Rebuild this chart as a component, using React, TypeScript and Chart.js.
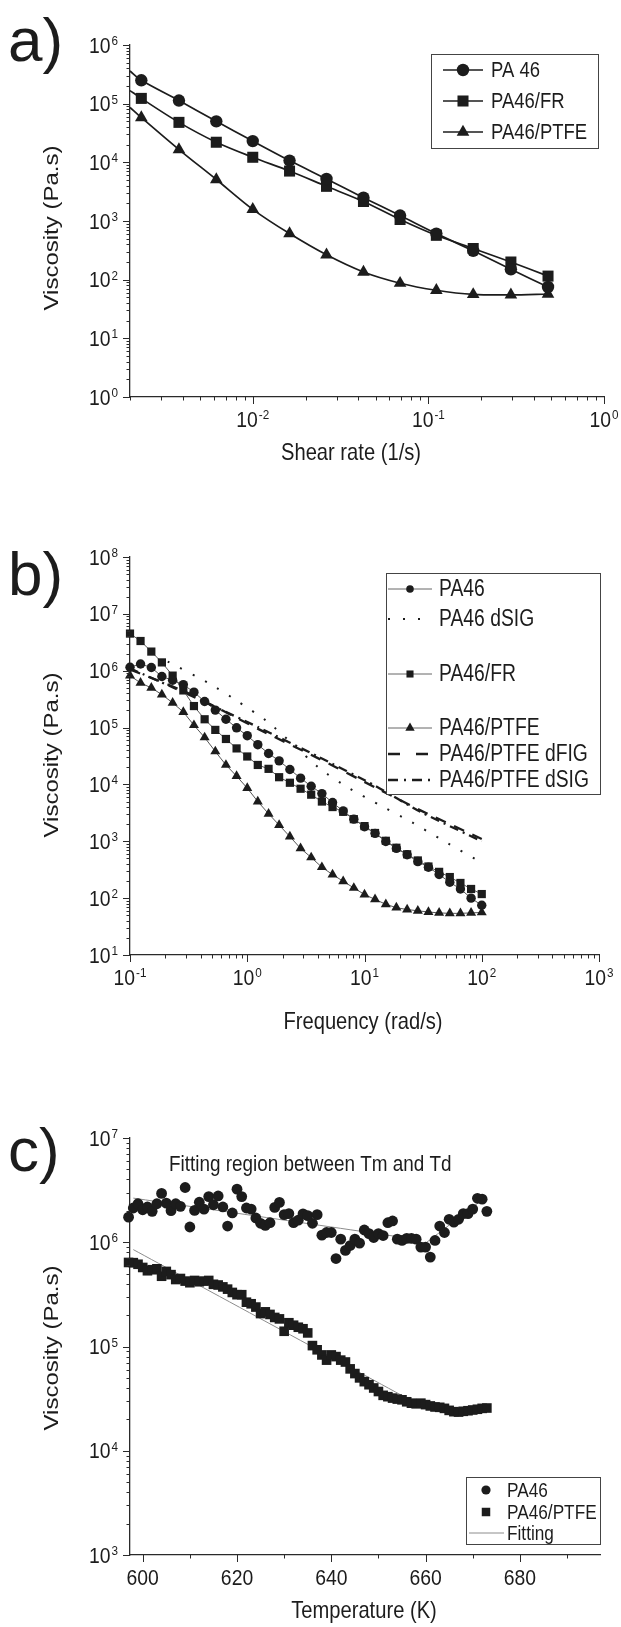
import React, { useEffect, useRef } from 'react';
import { Chart, registerables } from 'chart.js';

Chart.register(...registerables);

const FONT = '"Liberation Sans", Arial, Helvetica, sans-serif';
const INK = '#1c1c1c';
const PAGE_W = 621;
const SX = 0.84; // horizontal squeeze of the reference lettering
const TICK_SX = 0.9;

// ---------------- Panel a: viscosity vs shear rate ----------------
const shearRate = [0.002, 0.00232, 0.0038, 0.0062, 0.01, 0.0162, 0.0263, 0.0427, 0.069, 0.111, 0.18, 0.295, 0.48];
const pa46Shear = [3.6e5, 2.5e5, 1.13e5, 5.0e4, 2.3e4, 1.07e4, 5.2e3, 2.5e3, 1.24e3, 6.1e2, 3.1e2, 1.5e2, 75];
const pa46FrShear = [1.67e5, 1.23e5, 4.8e4, 2.2e4, 1.22e4, 7.1e3, 3.9e3, 2.15e3, 1.06e3, 5.7e2, 3.4e2, 2.0e2, 1.15e2];
const pa46PtfeShear = [8.6e4, 5.8e4, 1.65e4, 5.1e3, 1.58e3, 6.1e2, 2.65e2, 1.35e2, 87, 66, 56, 55, 57];
const shearNames = ['PA 46', 'PA46/FR', 'PA46/PTFE'];
const shearXTicks = [0.01, 0.1, 1];
const shearYTicks = [1, 10, 100, 1e3, 1e4, 1e5, 1e6];

// ---------------- Panel b: viscosity vs frequency ----------------
const frequency = [0.1, 0.123, 0.152, 0.187, 0.231, 0.285, 0.351, 0.433, 0.534, 0.658, 0.811, 1.0, 1.23, 1.52, 1.87, 2.31, 2.85, 3.51, 4.33, 5.34, 6.58, 8.11, 10.0, 12.3, 15.2, 18.7, 23.1, 28.5, 35.1, 43.3, 53.4, 65.8, 81.1, 100];
const pa46Freq = [1.15e6, 1.31e6, 1.14e6, 7.9e5, 6.8e5, 5.7e5, 4.2e5, 2.88e5, 2.03e5, 1.4e5, 9.9e4, 7.2e4, 5.0e4, 3.5e4, 2.6e4, 1.83e4, 1.29e4, 9.3e3, 6.9e3, 4.8e3, 3.4e3, 2.45e3, 1.8e3, 1.38e3, 9.9e2, 7.5e2, 5.8e2, 4.4e2, 3.5e2, 2.6e2, 1.9e2, 1.45e2, 1.0e2, 75];
const pa46FrFreq = [4.5e6, 3.33e6, 2.17e6, 1.4e6, 8.2e5, 4.5e5, 2.39e5, 1.4e5, 9.1e4, 6.3e4, 4.3e4, 3.1e4, 2.2e4, 1.88e4, 1.34e4, 1.07e4, 8.4e3, 6.6e3, 5.0e3, 4.0e3, 3.3e3, 2.45e3, 1.85e3, 1.4e3, 1.02e3, 7.7e2, 5.9e2, 4.6e2, 3.6e2, 2.9e2, 2.35e2, 1.85e2, 1.45e2, 1.18e2];
const pa46PtfeFreq = [8.2e5, 6.1e5, 5.0e5, 3.8e5, 2.73e5, 1.88e5, 1.1e5, 6.7e4, 3.8e4, 2.2e4, 1.4e4, 8.6e3, 5.0e3, 3.05e3, 1.93e3, 1.21e3, 7.5e2, 5.2e2, 3.5e2, 2.6e2, 1.98e2, 1.51e2, 1.16e2, 95, 78, 68, 63, 60, 57, 55, 54, 54, 55, 56];
const dsigPa46X = [0.21, 0.48, 0.85, 1.5, 2.5, 4.2, 7.3, 13, 24, 48, 100];
const dsigPa46Y = [1.45e6, 5.9e5, 2.8e5, 1.26e5, 4.9e4, 1.86e4, 8.7e3, 4.5e3, 2.3e3, 1.0e3, 4.2e2];
const dfigPtfeX = [0.1, 0.3, 1.26, 4.0, 12.3, 30, 100];
const dfigPtfeY = [1.05e6, 4.2e5, 9.3e4, 2.9e4, 8.9e3, 3.5e3, 1.1e3];
const dsigPtfeX = [0.1, 0.3, 1.26, 4.0, 12.3, 30, 100];
const dsigPtfeY = [1.1e6, 4.0e5, 1.0e5, 3.1e4, 9.5e3, 3.3e3, 1.0e3];
const freqNames = ['PA46', 'PA46 dSIG', 'PA46/FR', 'PA46/PTFE', 'PA46/PTFE dFIG', 'PA46/PTFE dSIG'];
const freqXTicks = [0.1, 1, 10, 100, 1000];
const freqYTicks = [10, 100, 1e3, 1e4, 1e5, 1e6, 1e7, 1e8];

// ---------------- Panel c: viscosity vs temperature ----------------
const temperature = [597, 598, 599, 600, 601, 602, 603, 604, 605, 606, 607, 608, 609, 610, 611, 612, 613, 614, 615, 616, 617, 618, 619, 620, 621, 622, 623, 624, 625, 626, 627, 628, 629, 630, 631, 632, 633, 634, 635, 636, 637, 638, 639, 640, 641, 642, 643, 644, 645, 646, 647, 648, 649, 650, 651, 652, 653, 654, 655, 656, 657, 658, 659, 660, 661, 662, 663, 664, 665, 666, 667, 668, 669, 670, 671, 672, 673];
const pa46Temp = [
  1.74e6, 2.13e6, 2.34e6, 2.05e6, 2.18e6, 1.98e6, 2.34e6, 2.94e6, 2.37e6, 2.01e6,
  2.34e6, 2.21e6, 3.35e6, 1.4e6, 2.02e6, 2.42e6, 2.08e6, 2.74e6, 2.29e6, 2.78e6,
  2.18e6, 1.43e6, 1.91e6, 3.23e6, 2.74e6, 2.13e6, 2.08e6, 1.71e6, 1.52e6, 1.45e6,
  1.54e6, 2.16e6, 2.41e6, 1.84e6, 1.88e6, 1.54e6, 1.63e6, 1.87e6, 1.8e6, 1.52e6,
  1.84e6, 1.17e6, 1.24e6, 1.24e6, 6.98e5, 1.07e6, 8.35e5, 9.3e5, 1.07e6, 9.8e5,
  1.31e6, 1.21e6, 1.11e6, 1.21e6, 1.16e6, 1.54e6, 1.6e6, 1.07e6, 1.04e6, 1.09e6,
  1.09e6, 1.07e6, 8.98e5, 8.98e5, 7.2e5, 1.04e6, 1.43e6, 1.24e6, 1.66e6, 1.56e6,
  1.66e6, 1.88e6, 1.88e6, 2.08e6, 2.64e6, 2.59e6, 1.98e6,
];
const ptfeTemp = [
  6.4e5, 6.37e5, 6.15e5, 5.73e5, 5.33e5, 5.45e5, 5.56e5, 4.72e5, 5.25e5, 4.89e5,
  4.39e5, 4.49e5, 4.24e5, 4.09e5, 4.3e5, 4.18e5, 4.24e5, 4.3e5, 3.95e5, 3.89e5,
  3.73e5, 3.55e5, 3.3e5, 3.14e5, 3.14e5, 2.66e5, 2.57e5, 2.39e5, 2.07e5, 2.15e5,
  2.03e5, 1.9e5, 1.84e5,
  1.4e5, 1.69e5, 1.6e5, 1.53e5, 1.48e5, 1.35e5, 1.02e5, 9.3e4, 8.3e4, 7.4e4,
  8.3e4, 8.0e4, 7.4e4, 7.1e4, 6.1e4, 5.5e4, 5.0e4, 4.6e4, 4.3e4, 4.0e4,
  3.7e4, 3.4e4, 3.3e4, 3.2e4, 3.13e4, 3.08e4, 2.95e4, 2.86e4, 2.82e4, 2.86e4,
  2.77e4, 2.69e4, 2.63e4, 2.61e4, 2.55e4, 2.44e4, 2.37e4, 2.35e4, 2.39e4, 2.42e4,
  2.46e4, 2.5e4, 2.55e4, 2.57e4,
];
const fitPa46AX = [598, 659];
const fitPa46AY = [2.65e6, 1.05e6];
const fitPa46BX = [660, 672];
const fitPa46BY = [9.8e5, 2.55e6];
const fitPtfeAX = [598, 656];
const fitPtfeAY = [8.5e5, 3.2e4];
const fitPtfeBX = [652, 666, 673];
const fitPtfeBY = [3.3e4, 2.35e4, 2.6e4];
const tempNames = ['PA46', 'PA46/PTFE', 'Fitting'];
const tempXTicks = [600, 620, 640, 660, 680];
const tempXMinor = [610, 630, 650, 670, 690];
const tempYTicks = [1e3, 1e4, 1e5, 1e6, 1e7];

// ---------------- helpers ----------------
const pts = (xs: number[], ys: number[]) => xs.map((x, i) => ({ x, y: ys[i] }));
const logMinors = (min: number, max: number) => {
  const out: number[] = [];
  for (let e = Math.floor(Math.log10(min)); e <= Math.ceil(Math.log10(max)); e++) {
    for (let k = 2; k <= 9; k++) {
      const v = k * Math.pow(10, e);
      if (v >= min * 0.999 && v <= max * 1.001) out.push(v);
    }
  }
  return out;
};
const powParts = (v: number): [string, string] => ['10', String(Math.round(Math.log10(v)))];
const plainParts = (v: number): [string, string] => [String(v), ''];

function squeezedText(ctx: CanvasRenderingContext2D, text: string, x: number, y: number, font: string, sx: number, align: CanvasTextAlign, baseline: CanvasTextBaseline, rotate = 0) {
  ctx.save();
  ctx.font = font;
  ctx.fillStyle = INK;
  ctx.textAlign = align;
  ctx.textBaseline = baseline;
  ctx.translate(x, y);
  if (rotate) {
    ctx.rotate(rotate);
    // along the text direction the lettering is full size; across it is squeezed
    ctx.scale(1, sx);
  } else {
    ctx.scale(sx, 1);
  }
  ctx.fillText(text, 0, 0);
  ctx.restore();
}

function drawMarker(ctx: CanvasRenderingContext2D, style: string, x: number, y: number, r: number) {
  ctx.beginPath();
  if (style === 'circle') ctx.arc(x, y, r, 0, Math.PI * 2);
  else if (style === 'rect') {
    const s = r * Math.SQRT1_2;
    ctx.rect(x - s, y - s, 2 * s, 2 * s);
  } else {
    let a = 0;
    ctx.moveTo(x + Math.sin(a) * r, y - Math.cos(a) * r);
    a += (2 * Math.PI) / 3;
    ctx.lineTo(x + Math.sin(a) * r, y - Math.cos(a) * r);
    a += (2 * Math.PI) / 3;
    ctx.lineTo(x + Math.sin(a) * r, y - Math.cos(a) * r);
    ctx.closePath();
  }
  ctx.fill();
}

const textPlugin = {
  id: 'texts',
  afterDraw(chart: any, _a: any, o: any) {
    const ctx: CanvasRenderingContext2D = chart.ctx;
    for (const t of o.items || []) {
      squeezedText(ctx, t.text, t.x, t.y, t.font, t.sx ?? SX, t.align || 'center', t.baseline || 'middle', t.rotate || 0);
    }
  },
};

const boxLegendPlugin = {
  id: 'boxLegend',
  afterDraw(chart: any, _a: any, o: any) {
    if (!o || !o.rows) return;
    const ctx: CanvasRenderingContext2D = chart.ctx;
    ctx.save();
    ctx.fillStyle = '#ffffff';
    ctx.fillRect(o.x1, o.y1, o.x2 - o.x1, o.y2 - o.y1);
    ctx.strokeStyle = '#444';
    ctx.lineWidth = 1;
    ctx.strokeRect(o.x1 + 0.5, o.y1 + 0.5, o.x2 - o.x1, o.y2 - o.y1);
    for (const r of o.rows) {
      if (r.line) {
        ctx.beginPath();
        ctx.setLineDash(r.line.dash || []);
        ctx.strokeStyle = r.line.color;
        ctx.lineWidth = r.line.width;
        ctx.moveTo(o.lineX1, r.y);
        ctx.lineTo(o.lineX2, r.y);
        ctx.stroke();
        ctx.setLineDash([]);
      }
      if (r.marker) {
        ctx.fillStyle = INK;
        drawMarker(ctx, r.marker.style, o.markerX, r.y, r.marker.r);
      }
    }
    ctx.restore();
    for (const r of o.rows) squeezedText(ctx, r.label, o.textX, r.y + 1, o.font, SX, 'left', 'middle');
  },
};

const axisPlugin = {
  id: 'axisDecor',
  afterDraw(chart: any, _a: any, o: any) {
    const ctx: CanvasRenderingContext2D = chart.ctx;
    const ca = chart.chartArea;
    const xs = chart.scales.x;
    const ys = chart.scales.y;
    ctx.save();
    ctx.strokeStyle = '#2a2a2a';
    ctx.lineWidth = 1;
    ctx.beginPath();
    const addX = (v: number, len: number) => {
      const p = Math.round(xs.getPixelForValue(v)) + 0.5;
      ctx.moveTo(p, ca.bottom);
      ctx.lineTo(p, ca.bottom + len);
    };
    const addY = (v: number, len: number) => {
      const p = Math.round(ys.getPixelForValue(v)) + 0.5;
      ctx.moveTo(ca.left, p);
      ctx.lineTo(ca.left - len, p);
    };
    o.xMajor.forEach((v: number) => addX(v, 7));
    o.xMinor.forEach((v: number) => addX(v, 3.5));
    o.yMajor.forEach((v: number) => addY(v, 7));
    o.yMinor.forEach((v: number) => addY(v, 3.5));
    ctx.stroke();
    ctx.restore();

    // tick labels ("10" with raised exponent), placed through the library's scales
    const baseFont = `21.5px ${FONT}`;
    const expFont = `13px ${FONT}`;
    const label = (parts: [string, string], x: number, baseY: number, align: 'right' | 'center') => {
      ctx.save();
      ctx.font = baseFont;
      const w1 = ctx.measureText(parts[0]).width * TICK_SX;
      ctx.font = expFont;
      const w2 = parts[1] ? ctx.measureText(parts[1]).width * TICK_SX + 1 : 0;
      ctx.restore();
      const total = w1 + w2;
      const x0 = align === 'right' ? x - total : x - total / 2;
      squeezedText(ctx, parts[0], x0, baseY, baseFont, TICK_SX, 'left', 'alphabetic');
      if (parts[1]) squeezedText(ctx, parts[1], x0 + w1 + 1, baseY - 7.5, expFont, TICK_SX, 'left', 'alphabetic');
    };
    o.xMajor.forEach((v: number) => label(o.xFmt(v), xs.getPixelForValue(v), ca.bottom + 29.5, 'center'));
    o.yMajor.forEach((v: number) => label(o.yFmt(v), ca.left - 12, ys.getPixelForValue(v) + 7.5, 'right'));
  },
};

function axis(type: string, min: number, max: number, majors: number[], fit: (s: any) => void) {
  return {
    type,
    min,
    max,
    afterBuildTicks: (s: any) => {
      s.ticks = majors.map((v) => ({ value: v, major: true }));
    },
    afterFit: fit,
    ticks: { display: false },
    grid: { display: false, drawTicks: false },
    border: { display: true, color: '#2a2a2a', width: 1.3 },
  };
}

type PanelSpec = {
  top: number;
  height: number;
  plotTop: number;
  plotBottom: number;
  plotRight: number;
  build: () => any;
};

function baseOptions(p: { height: number; plotTop: number; plotBottom: number; plotRight: number }, scales: any, plugins: any) {
  return {
    animation: false,
    responsive: false,
    maintainAspectRatio: false,
    devicePixelRatio: 1,
    layout: { padding: { left: 0, right: PAGE_W - p.plotRight, top: p.plotTop, bottom: 0 } },
    plugins: { legend: { display: false }, tooltip: { enabled: false }, ...plugins },
    scales,
  };
}

const markerDs = (label: string, data: any[], style: string, r: number | number[], lineColor: string, lineWidth: number, tension: number) => ({
  label,
  data,
  borderColor: lineColor,
  borderWidth: lineWidth,
  backgroundColor: INK,
  pointStyle: style,
  pointRadius: r,
  pointBackgroundColor: INK,
  pointBorderColor: INK,
  pointBorderWidth: 0,
  tension,
  fill: false,
  clip: false,
});

const lineDs = (label: string, data: any[], color: string, width: number, dash: number[]) => ({
  label,
  data,
  borderColor: color,
  borderWidth: width,
  borderDash: dash,
  pointRadius: 0,
  tension: 0.2,
  fill: false,
});

const TITLE = `24px ${FONT}`;
const PANEL = `62px ${FONT}`;

// ---------------- panel specs ----------------
const panelA: PanelSpec = {
  top: 0,
  height: 490,
  plotTop: 45,
  plotBottom: 397,
  plotRight: 604,
  build() {
    const H = this.height;
    const pb = this.plotBottom;
    const firstHidden = (r: number) => shearRate.map((_, i) => (i === 0 ? 0 : r));
    return {
      type: 'line',
      data: {
        datasets: [
          markerDs(shearNames[0], pts(shearRate, pa46Shear), 'circle', firstHidden(6.2), INK, 1.7, 0.3),
          markerDs(shearNames[1], pts(shearRate, pa46FrShear), 'rect', firstHidden(7.8), INK, 1.7, 0.3),
          markerDs(shearNames[2], pts(shearRate, pa46PtfeShear), 'triangle', firstHidden(7.3), INK, 1.7, 0.3),
        ],
      },
      options: baseOptions(this, {
        x: axis('logarithmic', 0.002, 1, shearXTicks, (s: any) => { s.height = H - pb; }),
        y: axis('logarithmic', 1, 1e6, shearYTicks, (s: any) => { s.width = 130; }),
      }, {
        texts: {
          items: [
            { text: 'a)', x: 8, y: 61, font: PANEL, sx: 1, align: 'left', baseline: 'alphabetic' },
            { text: 'Viscosity (Pa.s)', x: 52, y: 228, font: TITLE, rotate: -Math.PI / 2 },
            { text: 'Shear rate (1/s)', x: 351, y: 453, font: TITLE },
          ],
        },
        boxLegend: {
          x1: 431, y1: 54, x2: 598, y2: 148,
          lineX1: 443, lineX2: 483, markerX: 463, textX: 491,
          font: `22px ${FONT}`,
          rows: [
            { label: shearNames[0], y: 70, line: { color: INK, width: 1.7 }, marker: { style: 'circle', r: 6.2 } },
            { label: shearNames[1], y: 101, line: { color: INK, width: 1.7 }, marker: { style: 'rect', r: 7.8 } },
            { label: shearNames[2], y: 132, line: { color: INK, width: 1.7 }, marker: { style: 'triangle', r: 7.3 } },
          ],
        },
        axisDecor: {
          xMajor: shearXTicks, xMinor: logMinors(0.002, 1), yMajor: shearYTicks, yMinor: logMinors(1, 1e6),
          xFmt: powParts, yFmt: powParts,
        },
      }),
      plugins: [textPlugin, boxLegendPlugin, axisPlugin],
    };
  },
};

const panelB: PanelSpec = {
  top: 490,
  height: 580,
  plotTop: 67,
  plotBottom: 465,
  plotRight: 599,
  build() {
    const H = this.height;
    const pb = this.plotBottom;
    const thin = '#555';
    return {
      type: 'line',
      data: {
        datasets: [
          lineDs(freqNames[1], pts(dsigPa46X, dsigPa46Y), INK, 2, [2, 12]),
          lineDs(freqNames[4], pts(dfigPtfeX, dfigPtfeY), INK, 2.3, [11, 9]),
          lineDs(freqNames[5], pts(dsigPtfeX, dsigPtfeY), INK, 2.3, [9, 5, 2, 5]),
          markerDs(freqNames[0], pts(frequency, pa46Freq), 'circle', 4.7, thin, 1, 0),
          markerDs(freqNames[2], pts(frequency, pa46FrFreq), 'rect', 5.8, thin, 1, 0),
          markerDs(freqNames[3], pts(frequency, pa46PtfeFreq), 'triangle', 5.8, thin, 1, 0),
        ],
      },
      options: baseOptions(this, {
        x: axis('logarithmic', 0.1, 1000, freqXTicks, (s: any) => { s.height = H - pb; }),
        y: axis('logarithmic', 10, 1e8, freqYTicks, (s: any) => { s.width = 130; }),
      }, {
        texts: {
          items: [
            { text: 'b)', x: 8, y: 105, font: PANEL, sx: 1, align: 'left', baseline: 'alphabetic' },
            { text: 'Viscosity (Pa.s)', x: 52, y: 265, font: TITLE, rotate: -Math.PI / 2 },
            { text: 'Frequency (rad/s)', x: 363, y: 532, font: TITLE },
          ],
        },
        boxLegend: {
          x1: 386, y1: 83, x2: 600, y2: 304,
          lineX1: 388, lineX2: 432, markerX: 410, textX: 439,
          font: `23px ${FONT}`,
          rows: [
            { label: freqNames[0], y: 99, line: { color: '#666', width: 1 }, marker: { style: 'circle', r: 3.8 } },
            { label: freqNames[1], y: 129, line: { color: INK, width: 2, dash: [2, 13] } },
            { label: freqNames[2], y: 184, line: { color: '#666', width: 1 }, marker: { style: 'rect', r: 5 } },
            { label: freqNames[3], y: 238, line: { color: '#666', width: 1 }, marker: { style: 'triangle', r: 5.4 } },
            { label: freqNames[4], y: 264, line: { color: INK, width: 2.3, dash: [12, 16] } },
            { label: freqNames[5], y: 290, line: { color: INK, width: 2.3, dash: [10, 6, 2, 6] } },
          ],
        },
        axisDecor: {
          xMajor: freqXTicks, xMinor: logMinors(0.1, 1000), yMajor: freqYTicks, yMinor: logMinors(10, 1e8),
          xFmt: powParts, yFmt: powParts,
        },
      }),
      plugins: [textPlugin, boxLegendPlugin, axisPlugin],
    };
  },
};

const panelC: PanelSpec = {
  top: 1070,
  height: 557,
  plotTop: 68,
  plotBottom: 485,
  plotRight: 600,
  build() {
    const H = this.height;
    const pb = this.plotBottom;
    const fitColor = '#8c8c8c';
    return {
      type: 'line',
      data: {
        datasets: [
          { ...markerDs(tempNames[1], pts(temperature, ptfeTemp), 'rect', 6.8, INK, 0, 0), showLine: false },
          { ...markerDs(tempNames[0], pts(temperature, pa46Temp), 'circle', 5.4, INK, 0, 0), showLine: false },
          lineDs(tempNames[2], pts(fitPa46AX, fitPa46AY), fitColor, 1, []),
          lineDs(tempNames[2], pts(fitPa46BX, fitPa46BY), fitColor, 1, []),
          lineDs(tempNames[2], pts(fitPtfeAX, fitPtfeAY), fitColor, 1, []),
          lineDs(tempNames[2], pts(fitPtfeBX, fitPtfeBY), fitColor, 1, []),
        ],
      },
      options: baseOptions(this, {
        x: axis('linear', 597.3, 697, tempXTicks, (s: any) => { s.height = H - pb; }),
        y: axis('logarithmic', 1e3, 1e7, tempYTicks, (s: any) => { s.width = 130; }),
      }, {
        texts: {
          items: [
            { text: 'c)', x: 8, y: 101, font: PANEL, sx: 1, align: 'left', baseline: 'alphabetic' },
            { text: 'Viscosity (Pa.s)', x: 52, y: 278, font: TITLE, rotate: -Math.PI / 2 },
            { text: 'Temperature (K)', x: 364, y: 541, font: TITLE },
            { text: 'Fitting region between Tm and Td', x: 169, y: 95, font: `22.5px ${FONT}`, align: 'left' },
          ],
        },
        boxLegend: {
          x1: 466, y1: 407, x2: 600, y2: 474,
          lineX1: 469, lineX2: 504, markerX: 486, textX: 507,
          font: `20.5px ${FONT}`,
          rows: [
            { label: tempNames[0], y: 420, marker: { style: 'circle', r: 4.6 } },
            { label: tempNames[1], y: 442, marker: { style: 'rect', r: 6 } },
            { label: tempNames[2], y: 463, line: { color: fitColor, width: 1 } },
          ],
        },
        axisDecor: {
          xMajor: tempXTicks, xMinor: tempXMinor, yMajor: tempYTicks, yMinor: logMinors(1e3, 1e7),
          xFmt: plainParts, yFmt: powParts,
        },
      }),
      plugins: [textPlugin, boxLegendPlugin, axisPlugin],
    };
  },
};

function ChartPanel({ spec }: { spec: PanelSpec }) {
  const ref = useRef<HTMLCanvasElement>(null);
  useEffect(() => {
    if (!ref.current) return;
    const chart = new Chart(ref.current, spec.build());
    return () => chart.destroy();
  }, [spec]);
  return (
    <canvas
      ref={ref}
      width={PAGE_W}
      height={spec.height}
      style={{ position: 'absolute', left: 0, top: spec.top, width: PAGE_W, height: spec.height, display: 'block' }}
    />
  );
}

export default function App() {
  return (
    <div style={{ position: 'absolute', left: 0, top: 0, width: PAGE_W, height: 1627, background: '#ffffff', overflow: 'hidden' }}>
      <ChartPanel spec={panelA} />
      <ChartPanel spec={panelB} />
      <ChartPanel spec={panelC} />
    </div>
  );
}
